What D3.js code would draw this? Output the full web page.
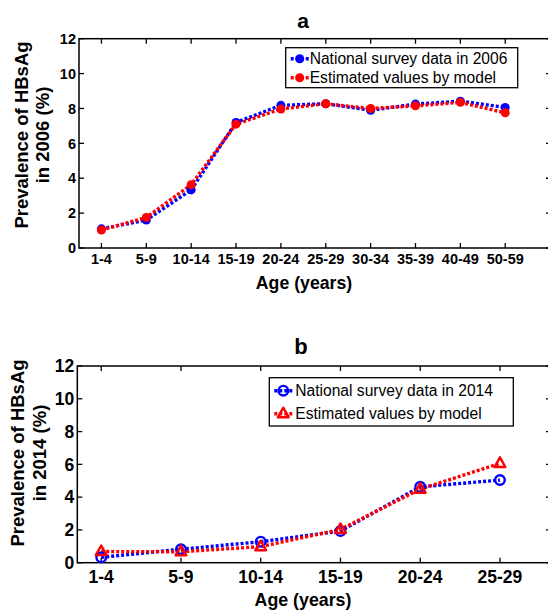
<!DOCTYPE html>
<html><head><meta charset="utf-8">
<script src="https://cdn.jsdelivr.net/npm/d3@7"></script>
<style>body{margin:0;background:#fff}svg{display:block;font-family:"Liberation Sans",Arial,sans-serif}</style>
</head><body><svg id="c" width="548" height="610"></svg>
<script>
const agesA = ["1-4","5-9","10-14","15-19","20-24","25-29","30-34","35-39","40-49","50-59"];
const surveyA = [1.1,1.6,3.33,7.2,8.18,8.27,7.9,8.25,8.42,8.06];
const modelA = [1.03,1.75,3.63,7.1,7.97,8.27,8.0,8.15,8.35,7.75];
const agesB = ["1-4","5-9","10-14","15-19","20-24","25-29"];
const surveyB = [0.33,0.82,1.28,1.93,4.63,5.04];
const modelB = [0.68,0.67,0.98,2.03,4.49,6.06];
const yTicks = [0,2,4,6,8,10,12];

const svg = d3.select("#c");

function panel(o){
  const g = svg.append("g");
  const x = d3.scaleLinear().domain(o.xdom).range([o.l,o.r]);
  const y = d3.scaleLinear().domain([0,12]).range([o.b,o.t]);
  const idx = o.cats.map((c,i)=>i+1);
  g.append("rect").attr("x",o.l).attr("y",o.t).attr("width",o.r-o.l).attr("height",o.b-o.t)
    .attr("fill","none").attr("stroke","#000").attr("stroke-width",1.5);
  const tl=5;
  g.append("g").selectAll("line").data(idx).join("line")
    .attr("x1",d=>x(d)).attr("x2",d=>x(d)).attr("y1",o.b).attr("y2",o.b-tl).attr("stroke","#000").attr("stroke-width",1.3);
  g.append("g").selectAll("line").data(idx).join("line")
    .attr("x1",d=>x(d)).attr("x2",d=>x(d)).attr("y1",o.t).attr("y2",o.t+tl).attr("stroke","#000").attr("stroke-width",1.3);
  g.append("g").selectAll("line").data(yTicks).join("line")
    .attr("x1",o.l).attr("x2",o.l+tl).attr("y1",d=>y(d)).attr("y2",d=>y(d)).attr("stroke","#000").attr("stroke-width",1.3);
  g.append("g").selectAll("line").data(yTicks).join("line")
    .attr("x1",o.r).attr("x2",o.r-tl).attr("y1",d=>y(d)).attr("y2",d=>y(d)).attr("stroke","#000").attr("stroke-width",1.3);
  g.append("g").selectAll("text").data(yTicks).join("text")
    .attr("x",o.l-3).attr("y",d=>y(d)).attr("dy","0.36em").attr("text-anchor","end")
    .attr("font-size",o.tf).attr("font-weight","bold").text(d=>d);
  g.append("g").selectAll("text").data(o.cats).join("text")
    .attr("x",(d,i)=>x(i+1)).attr("y",o.b+o.xlo).attr("text-anchor","middle")
    .attr("font-size",o.tf).attr("font-weight","bold").text(d=>d);
  g.append("text").attr("x",o.tx).attr("y",o.ty).attr("text-anchor","middle")
    .attr("font-size",o.titf).attr("font-weight","bold").text(o.title);
  g.append("text").attr("x",o.axx).attr("y",o.axy).attr("text-anchor","middle")
    .attr("font-size",o.af).attr("font-weight","bold").text("Age (years)");
  const yt = g.append("text").attr("transform",`translate(${o.ytx},${o.yty}) rotate(-90)`)
    .attr("text-anchor","middle").attr("font-size",o.yf).attr("font-weight","bold");
  yt.append("tspan").attr("x",0).attr("y",0).text("Prevalence of HBsAg");
  yt.append("tspan").attr("x",0).attr("y",o.ylh).text(o.ytitle2);
  const line = d3.line().x((d,i)=>x(i+1)).y(d=>y(d));
  const series = [
    {vals:o.s1,color:"#0000ff",marker:o.m1},
    {vals:o.s2,color:"#ff0000",marker:o.m2}
  ];
  series.forEach(s=>{
    g.append("path").attr("d",line(s.vals)).attr("fill","none").attr("stroke",s.color)
      .attr("stroke-width",3.4).attr("stroke-dasharray","3,2");
  });
  function drawMarker(sel,m,color,cx,cy){
    if(m==="dot"){
      sel.append("circle").attr("cx",cx).attr("cy",cy).attr("r",4.5).attr("fill",color);
    } else if(m==="circle"){
      sel.append("circle").attr("cx",cx).attr("cy",cy).attr("r",4.8).attr("fill","none").attr("stroke",color).attr("stroke-width",2.4);
    } else if(m==="tri"){
      const s=6;
      sel.append("path").attr("d",`M${cx},${cy-s}L${cx+s*0.9},${cy+s*0.6}L${cx-s*0.9},${cy+s*0.6}Z`)
        .attr("fill","none").attr("stroke",color).attr("stroke-width",2.4).attr("stroke-linejoin","round");
    }
  }
  series.forEach(s=>{
    s.vals.forEach((v,i)=>drawMarker(g,s.marker,s.color,x(i+1),y(v)));
  });
  const L=o.leg;
  g.append("rect").attr("x",L.x).attr("y",L.y).attr("width",L.w).attr("height",L.h)
    .attr("fill","#fff").attr("stroke","#000").attr("stroke-width",1.3);
  o.labels.forEach((lab,i)=>{
    const s=series[i]; const ly=L.y+L.r0+i*L.dr;
    g.append("line").attr("x1",L.x+5).attr("x2",L.x+24).attr("y1",ly).attr("y2",ly)
      .attr("stroke",s.color).attr("stroke-width",3.4).attr("stroke-dasharray","3,2");
    drawMarker(g,s.marker,s.color,L.x+14,ly);
    g.append("text").attr("x",L.x+L.tx).attr("y",ly).attr("dy","0.36em")
      .attr("font-size",L.f).text(lab);
  });
}

panel({cats:agesA,s1:surveyA,s2:modelA,m1:"dot",m2:"dot",
  xdom:[0.5,11.02],l:79,r:551,t:38.7,b:248,tf:14.5,xlo:16,
  title:"a",tx:303,ty:28,titf:21,axx:304,axy:289,af:17.7,
  ytx:28,yty:135,ylh:21,yf:18.5,ytitle2:"in 2006 (%)",
  labels:["National survey data in 2006","Estimated values by model"],
  leg:{x:285.7,y:47.7,w:232,h:40,r0:11,dr:19,f:15.6,tx:24}});

panel({cats:agesB,s1:surveyB,s2:modelB,m1:"circle",m2:"tri",
  xdom:[0.7,6.64],l:77.3,r:551,t:366,b:562.7,tf:17.5,xlo:20,
  title:"b",tx:301,ty:354,titf:22,axx:303,axy:606,af:17.8,
  ytx:24,yty:453,ylh:22,yf:18.5,ytitle2:"in 2014 (%)",
  labels:["National survey data in 2014","Estimated values by model"],
  leg:{x:269.3,y:377.7,w:244,h:48.3,r0:13,dr:23,f:15.6,tx:26}});
</script></body></html>
